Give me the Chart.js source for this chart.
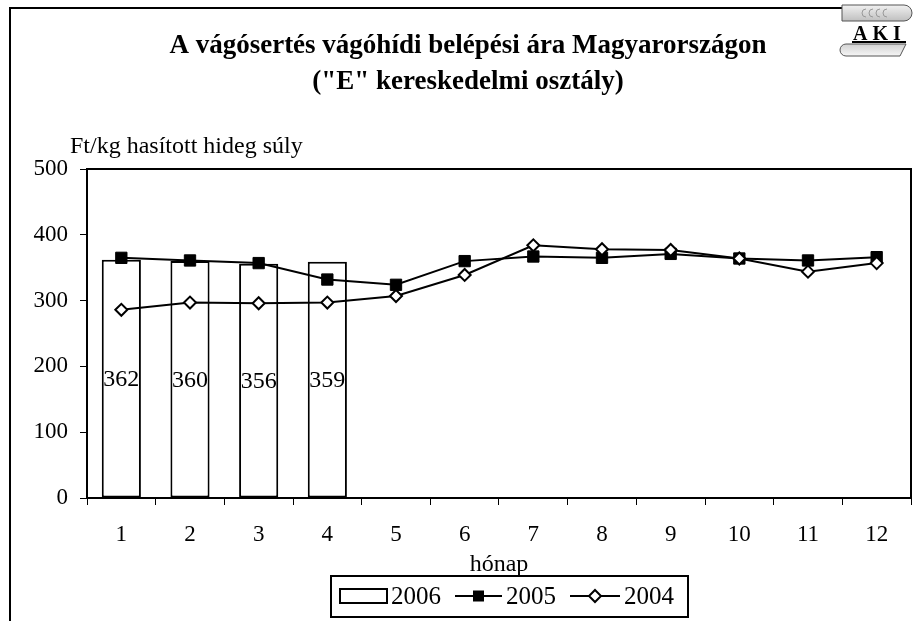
<!DOCTYPE html>
<html><head><meta charset="utf-8">
<script src="https://cdn.jsdelivr.net/npm/chart.js@4.4.0/dist/chart.umd.min.js"></script>
<style>html,body{margin:0;padding:0;background:#fff}canvas{display:block}</style>
</head><body>
<canvas id="c" width="917" height="621"></canvas>
<script>
const months = ['1','2','3','4','5','6','7','8','9','10','11','12'];
const series2006 = [362,360,356,359,null,null,null,null,null,null,null,null];
const series2005 = [365,361,357,332,324,360,367,365,371,364,361,366];
const series2004 = [286,297,296,297,307,339,384,378,377,364,344,357];
const yTicks = [0,100,200,300,400,500];
const titleLines = ['A vágósertés vágóhídi belépési ára Magyarországon', '("E" kereskedelmi osztály)'];
const yAxisTitle = 'Ft/kg hasított hideg súly';
const xAxisTitle = 'hónap';
const legendLabels = ['2006','2005','2004'];

const SERIF = '"Liberation Serif", "Times New Roman", serif';

const decor = {
  id: 'decor',
  afterDraw(chart) {
    const ctx = chart.ctx;
    const ca = chart.chartArea;
    ctx.save();
    // outer frame
    ctx.strokeStyle = '#000';
    ctx.lineWidth = 2;
    ctx.beginPath();
    ctx.moveTo(10, 621); ctx.lineTo(10, 8); ctx.lineTo(842, 8);
    ctx.stroke();
    // plot box
    ctx.strokeRect(ca.left, ca.top, ca.right - ca.left, ca.bottom - ca.top);
    // title
    ctx.fillStyle = '#000';
    ctx.textAlign = 'center';
    ctx.textBaseline = 'alphabetic';
    ctx.font = 'bold 27px ' + SERIF;
    ctx.fillText(titleLines[0], 468, 53);
    ctx.fillText(titleLines[1], 468, 89);
    // y axis title
    ctx.font = '24px ' + SERIF;
    ctx.textAlign = 'left';
    ctx.textBaseline = 'middle';
    ctx.fillText(yAxisTitle, 70, 147);
    // bar labels
    const meta = chart.getDatasetMeta(0);
    ctx.textAlign = 'center';
    ctx.font = '24px ' + SERIF;
    meta.data.forEach((el, i) => {
      const v = chart.data.datasets[0].data[i];
      if (v == null) return;
      ctx.fillText(String(v), el.x, (el.y + el.base) / 2 + 1);
    });
    // legend
    ctx.lineWidth = 2;
    ctx.strokeRect(331, 576, 357, 41);
    const ly = 596;
    ctx.strokeRect(340, 589, 47, 14);
    ctx.beginPath(); ctx.moveTo(455, ly); ctx.lineTo(502, ly); ctx.stroke();
    ctx.fillRect(473, ly - 5.5, 11, 11);
    ctx.beginPath(); ctx.moveTo(570, ly); ctx.lineTo(620, ly); ctx.stroke();
    ctx.beginPath();
    ctx.moveTo(595, ly - 6); ctx.lineTo(601, ly); ctx.lineTo(595, ly + 6); ctx.lineTo(589, ly); ctx.closePath();
    ctx.fillStyle = '#fff'; ctx.fill(); ctx.stroke();
    ctx.fillStyle = '#000';
    ctx.font = '25px ' + SERIF;
    ctx.textAlign = 'left';
    ctx.fillText(legendLabels[0], 391, ly + 1);
    ctx.fillText(legendLabels[1], 506, ly + 1);
    ctx.fillText(legendLabels[2], 624, ly + 1);
    // logo
    ctx.lineWidth = 1;
    const g = ctx.createLinearGradient(0, 4, 0, 22);
    g.addColorStop(0, '#f4f4f4'); g.addColorStop(1, '#bcbcbc');
    ctx.fillStyle = g;
    ctx.strokeStyle = '#555';
    ctx.beginPath();
    ctx.moveTo(842, 5); ctx.lineTo(904, 5); ctx.arc(904, 13, 8, -Math.PI / 2, Math.PI / 2); ctx.lineTo(842, 21);
    ctx.closePath(); ctx.fill(); ctx.stroke();
    ctx.strokeStyle = '#999';
    for (let k = 0; k < 4; k++) { ctx.beginPath(); ctx.arc(866 + k * 7, 13, 4, Math.PI * 0.5, Math.PI * 1.5); ctx.stroke(); }
    ctx.fillStyle = '#000';
    ctx.font = 'bold 20px ' + SERIF;
    ctx.textAlign = 'center';
    ctx.textBaseline = 'alphabetic';
    ctx.fillText('A K I', 877, 40);
    ctx.fillRect(852, 41, 54, 2);
    const g2 = ctx.createLinearGradient(0, 43, 0, 56);
    g2.addColorStop(0, '#cfcfcf'); g2.addColorStop(1, '#f6f6f6');
    ctx.fillStyle = g2; ctx.strokeStyle = '#555';
    ctx.beginPath();
    ctx.moveTo(906, 44); ctx.lineTo(846, 44); ctx.arc(846, 50, 6, -Math.PI / 2, Math.PI / 2, true); ctx.lineTo(900, 56);
    ctx.closePath(); ctx.fill(); ctx.stroke();
    ctx.restore();
  }
};

new Chart(document.getElementById('c'), {
  data: {
    labels: months,
    datasets: [
      { type: 'bar', label: legendLabels[0], data: series2006, backgroundColor: '#fff', borderColor: '#000', borderWidth: 2, borderSkipped: false, barPercentage: 0.57, categoryPercentage: 1, order: 3 },
      { type: 'line', label: legendLabels[1], data: series2005, borderColor: '#000', borderWidth: 2, tension: 0, pointStyle: 'rect', pointRadius: 8, pointBackgroundColor: '#000', pointBorderColor: '#000', pointBorderWidth: 1, order: 2 },
      { type: 'line', label: legendLabels[2], data: series2004, borderColor: '#000', borderWidth: 2, tension: 0, pointStyle: 'rectRot', pointRadius: 6, pointBackgroundColor: '#fff', pointBorderColor: '#000', pointBorderWidth: 2, order: 1 }
    ]
  },
  options: {
    responsive: false,
    animation: false,
    devicePixelRatio: 1,
    layout: { autoPadding: false, padding: { left: 0, right: 6, top: 169, bottom: 42 } },
    plugins: { legend: { display: false }, tooltip: { enabled: false }, title: { display: false } },
    scales: {
      x: {
        offset: true,
        grid: { offset: true, drawOnChartArea: false, drawTicks: true, tickLength: 7, color: '#000', lineWidth: 1 },
        border: { display: true, color: '#000', width: 2 },
        ticks: { color: '#000', font: { family: SERIF, size: 23 }, padding: 16, maxRotation: 0 },
        title: { display: true, text: xAxisTitle, color: '#000', font: { family: SERIF, size: 24 }, padding: { top: 0, bottom: 0 } },
        afterFit(s) { s.height = 81; s.paddingLeft = 0; s.paddingRight = 0; }
      },
      y: {
        min: 0, max: 500,
        afterBuildTicks(s) { s.ticks = yTicks.map(v => ({ value: v })); },
        grid: { drawOnChartArea: false, drawTicks: true, tickLength: 7, color: '#000', lineWidth: 1 },
        border: { display: true, color: '#000', width: 2 },
        ticks: { color: '#000', font: { family: SERIF, size: 23 }, padding: 12 },
        afterFit(s) { s.width = 87; s.paddingTop = 0; s.paddingBottom = 0; }
      }
    }
  },
  plugins: [decor]
});
</script>
</body></html>
